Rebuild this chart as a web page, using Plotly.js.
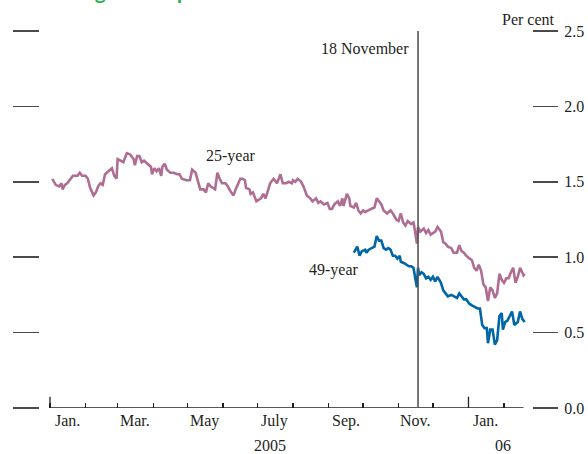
<!DOCTYPE html>
<html><head><meta charset="utf-8">
<script src="https://cdn.plot.ly/plotly-3.0.1.min.js"></script>
<style>html,body{margin:0;padding:0;background:#fff}#chart{width:588px;height:454px}</style>
</head><body><div id="chart"></div>
<script>
// ---- data ----
const dates25 = ['2005-01-03','2005-01-06','2005-01-09','2005-01-11','2005-01-12','2005-01-14','2005-01-16','2005-01-19','2005-01-21','2005-01-25','2005-01-27','2005-01-29','2005-02-01','2005-02-03','2005-02-05','2005-02-08','2005-02-10','2005-02-12','2005-02-14','2005-02-16','2005-02-18','2005-02-21','2005-02-24','2005-02-26','2005-02-28','2005-03-01','2005-03-04','2005-03-06','2005-03-09','2005-03-12','2005-03-15','2005-03-16','2005-03-18','2005-03-20','2005-03-22','2005-03-24','2005-03-27','2005-03-30','2005-03-31','2005-04-02','2005-04-04','2005-04-06','2005-04-08','2005-04-09','2005-04-11','2005-04-13','2005-04-16','2005-04-19','2005-04-22','2005-04-24','2005-04-26','2005-04-30','2005-05-03','2005-05-05','2005-05-08','2005-05-10','2005-05-12','2005-05-15','2005-05-17','2005-05-19','2005-05-21','2005-05-25','2005-05-27','2005-05-29','2005-05-31','2005-06-03','2005-06-05','2005-06-08','2005-06-10','2005-06-12','2005-06-14','2005-06-16','2005-06-18','2005-06-20','2005-06-21','2005-06-24','2005-06-25','2005-06-27','2005-06-30','2005-07-02','2005-07-04','2005-07-06','2005-07-08','2005-07-10','2005-07-12','2005-07-15','2005-07-17','2005-07-18','2005-07-21','2005-07-23','2005-07-25','2005-07-26','2005-07-28','2005-07-31','2005-08-01','2005-08-03','2005-08-05','2005-08-08','2005-08-10','2005-08-13','2005-08-16','2005-08-18','2005-08-21','2005-08-23','2005-08-25','2005-08-28','2005-08-31','2005-09-02','2005-09-04','2005-09-06','2005-09-09','2005-09-11','2005-09-13','2005-09-14','2005-09-17','2005-09-19','2005-09-20','2005-09-23','2005-09-25','2005-09-27','2005-09-29','2005-10-01','2005-10-03','2005-10-05','2005-10-08','2005-10-11','2005-10-13','2005-10-15','2005-10-17','2005-10-19','2005-10-22','2005-10-25','2005-10-27','2005-10-30','2005-11-01','2005-11-03','2005-11-05','2005-11-07','2005-11-09','2005-11-12','2005-11-14','2005-11-15','2005-11-17','2005-11-18','2005-11-20','2005-11-23','2005-11-25','2005-11-27','2005-11-29','2005-12-01','2005-12-03','2005-12-05','2005-12-08','2005-12-10','2005-12-12','2005-12-14','2005-12-17','2005-12-19','2005-12-22','2005-12-24','2005-12-26','2005-12-28','2005-12-30','2006-01-02','2006-01-04','2006-01-06','2006-01-08','2006-01-10','2006-01-12','2006-01-14','2006-01-16','2006-01-18','2006-01-20','2006-01-22','2006-01-24','2006-01-26','2006-01-28','2006-01-30','2006-02-01','2006-02-03','2006-02-05','2006-02-07','2006-02-09','2006-02-11','2006-02-13','2006-02-15','2006-02-18','2006-02-19'];
const yield25 = [1.52,1.48,1.47,1.49,1.45,1.48,1.49,1.52,1.54,1.54,1.56,1.54,1.54,1.52,1.46,1.41,1.43,1.47,1.49,1.48,1.55,1.57,1.59,1.54,1.52,1.65,1.64,1.63,1.69,1.68,1.65,1.61,1.67,1.67,1.63,1.64,1.62,1.60,1.55,1.59,1.57,1.59,1.54,1.60,1.62,1.58,1.56,1.56,1.55,1.55,1.52,1.51,1.51,1.58,1.56,1.51,1.45,1.45,1.43,1.49,1.47,1.45,1.56,1.52,1.49,1.49,1.47,1.43,1.41,1.45,1.49,1.52,1.52,1.51,1.46,1.45,1.42,1.43,1.37,1.38,1.39,1.42,1.39,1.44,1.49,1.52,1.50,1.49,1.55,1.49,1.49,1.49,1.50,1.49,1.51,1.50,1.52,1.50,1.47,1.41,1.39,1.37,1.39,1.36,1.37,1.35,1.36,1.32,1.32,1.35,1.37,1.34,1.39,1.34,1.42,1.39,1.34,1.33,1.36,1.31,1.29,1.31,1.30,1.31,1.32,1.33,1.39,1.37,1.35,1.31,1.29,1.31,1.29,1.25,1.24,1.29,1.23,1.21,1.24,1.22,1.23,1.19,1.09,1.20,1.17,1.19,1.16,1.18,1.15,1.16,1.17,1.20,1.17,1.10,1.09,1.07,1.06,1.03,1.03,1.08,1.04,1.03,1.01,0.99,0.98,0.93,0.91,0.95,0.91,0.82,0.80,0.71,0.80,0.78,0.73,0.76,0.89,0.85,0.83,0.86,0.86,0.90,0.93,0.83,0.87,0.93,0.88,0.89];
const dates49 = ['2005-09-23','2005-09-26','2005-09-28','2005-09-30','2005-10-03','2005-10-04','2005-10-06','2005-10-08','2005-10-11','2005-10-13','2005-10-15','2005-10-17','2005-10-19','2005-10-21','2005-10-23','2005-10-25','2005-10-27','2005-10-29','2005-10-31','2005-11-02','2005-11-03','2005-11-06','2005-11-08','2005-11-10','2005-11-12','2005-11-14','2005-11-17','2005-11-18','2005-11-19','2005-11-21','2005-11-23','2005-11-25','2005-11-27','2005-11-29','2005-12-01','2005-12-03','2005-12-05','2005-12-08','2005-12-10','2005-12-12','2005-12-14','2005-12-17','2005-12-19','2005-12-22','2005-12-24','2005-12-26','2005-12-28','2005-12-30','2006-01-02','2006-01-04','2006-01-06','2006-01-09','2006-01-11','2006-01-13','2006-01-15','2006-01-17','2006-01-18','2006-01-20','2006-01-22','2006-01-24','2006-01-26','2006-01-28','2006-01-30','2006-01-31','2006-02-02','2006-02-04','2006-02-06','2006-02-08','2006-02-10','2006-02-13','2006-02-15','2006-02-17','2006-02-19'];
const yield49 = [1.03,1.07,1.01,1.04,1.05,1.03,1.05,1.06,1.07,1.14,1.11,1.11,1.06,1.05,1.06,1.05,1.01,1.01,0.99,1.01,0.97,0.96,0.95,0.94,0.94,0.93,0.80,0.93,0.88,0.90,0.89,0.86,0.87,0.85,0.87,0.84,0.87,0.83,0.78,0.76,0.74,0.75,0.74,0.73,0.76,0.74,0.72,0.72,0.69,0.68,0.67,0.66,0.66,0.55,0.53,0.53,0.43,0.52,0.52,0.42,0.45,0.61,0.63,0.52,0.57,0.58,0.61,0.64,0.55,0.57,0.64,0.59,0.57];

const monthTicks = ['2005-01-01','2005-02-01','2005-03-01','2005-04-01','2005-05-01','2005-06-01','2005-07-01','2005-08-01','2005-09-01','2005-10-01','2005-11-01','2005-12-01','2006-01-01','2006-02-01'];
const yearStartTicks = ['2005-01-01','2006-01-01'];
const monthLabelDates = ['2005-01-16','2005-03-16','2005-05-16','2005-07-16','2005-09-16','2005-11-16','2006-01-16'];
const monthLabels = ['Jan.','Mar.','May','July','Sep.','Nov.','Jan.'];
const yearLabelDates = ['2005-07-12','2006-01-31'];
const yearLabels = ['2005','06'];
const yTicks = [0, 0.5, 1.0, 1.5, 2.0, 2.5];
const eventDate = '2005-11-18';
const eventLabel = '18 November';
const seriesNames = ['25-year', '49-year'];
const seriesLabelPos = [['2005-06-08', 1.671], ['2005-09-06', 0.915]];
const unitLabel = 'Per cent';
const titleText = 'Long-dated spot rates';
const axisStart = '2005-01-01', axisEnd = '2006-02-18';

// ---- styling ----
const serif = 'Liberation Serif, Times New Roman, serif';
const txt = '#231f20';
const pink = '#b06d93';
const blue = '#0066a6';

const traces = [
  {x: dates25, y: yield25, type: 'scatter', mode: 'lines', name: seriesNames[0],
   line: {color: pink, width: 2.6}, hoverinfo: 'skip'},
  {x: dates49, y: yield49, type: 'scatter', mode: 'lines', name: seriesNames[1],
   line: {color: blue, width: 2.6}, yaxis: 'y2', hoverinfo: 'skip'}
];

const shapes = [
  // x axis line
  {type: 'line', xref: 'x', yref: 'y', x0: axisStart, x1: axisEnd, y0: 0, y1: 0,
   line: {color: '#231f20', width: 1.5}, layer: 'above'},
  // event line
  {type: 'line', xref: 'x', yref: 'y', x0: eventDate, x1: eventDate, y0: 0, y1: 2.5,
   line: {color: '#555', width: 1.6}, layer: 'above'}
];
yearStartTicks.forEach(d => shapes.push({type: 'line', xref: 'x', yref: 'y', x0: d, x1: d, y0: 0, y1: 0.075,
   line: {color: '#231f20', width: 1.3}, layer: 'above'}));

const annotations = [];
monthLabelDates.forEach((d, i) => annotations.push({x: d, y: 0, xref: 'x', yref: 'paper', yanchor: 'top',
  yshift: -2, text: monthLabels[i], showarrow: false, font: {family: serif, size: 16, color: txt}}));
yearLabelDates.forEach((d, i) => annotations.push({x: d, y: -0.1, xref: 'x', yref: 'paper', yanchor: 'middle',
  text: yearLabels[i], showarrow: false, font: {family: serif, size: 16, color: txt}}));
seriesNames.forEach((n, i) => annotations.push({x: seriesLabelPos[i][0], y: seriesLabelPos[i][1], xref: 'x', yref: 'y',
  text: n, showarrow: false, font: {family: serif, size: 16, color: txt}}));
annotations.push({x: eventDate, y: 2.381, xref: 'x', yref: 'y', xanchor: 'right', xshift: -7,
  text: eventLabel, showarrow: false, font: {family: serif, size: 16, color: txt}});
annotations.push({x: 1.0508, y: 1.0318, xref: 'paper', yref: 'paper', xanchor: 'right', yanchor: 'middle',
  text: unitLabel, showarrow: false, font: {family: serif, size: 16, color: txt}});
annotations.push({x: 0.0407, y: 1.0676, xref: 'paper', yref: 'paper', xanchor: 'left', yanchor: 'bottom',
  text: '<b>' + titleText + '</b>', showarrow: false, font: {family: 'Open Sans, sans-serif', size: 18, color: '#2db34a'}});

const layout = {
  width: 588, height: 454,
  margin: {l: 40, r: 56, t: 31, b: 46, pad: 0},
  paper_bgcolor: '#fff', plot_bgcolor: '#fff',
  showlegend: false,
  xaxis: {type: 'date', range: ['2004-12-23 06:40', '2006-02-25 09:40'], fixedrange: true,
    tickmode: 'array', tickvals: monthTicks, ticktext: monthTicks.map(() => ''),
    ticks: 'inside', ticklen: 5, tickwidth: 1.3, tickcolor: '#231f20',
    showgrid: false, zeroline: false, showline: false, showticklabels: false},
  yaxis: {range: [0, 2.5], fixedrange: true, tickmode: 'array', tickvals: yTicks,
    ticks: 'outside', ticklen: 26, tickwidth: 1.5, tickcolor: '#4a4a4a',
    showgrid: false, zeroline: false, showline: false, showticklabels: false},
  yaxis2: {range: [0, 2.5], overlaying: 'y', side: 'right', fixedrange: true,
    tickmode: 'array', tickvals: yTicks, ticktext: yTicks.map(v => v.toFixed(1)),
    ticks: 'outside', ticklen: 25, tickwidth: 1.5, tickcolor: '#4a4a4a', ticklabelstandoff: 3,
    tickfont: {family: serif, size: 16, color: txt},
    showgrid: false, zeroline: false, showline: false},
  shapes: shapes,
  annotations: annotations
};

Plotly.newPlot('chart', traces, layout, {displayModeBar: false, staticPlot: true});
</script>
</body></html>
